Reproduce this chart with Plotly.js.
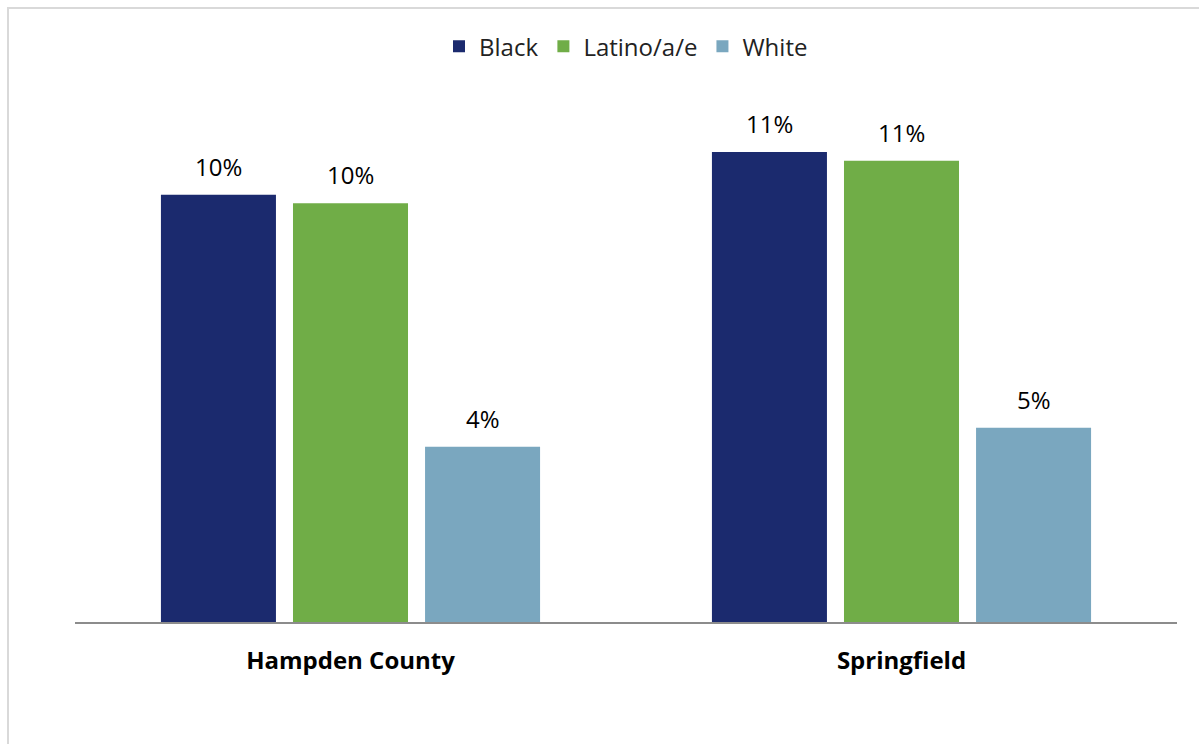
<!DOCTYPE html>
<html>
<head>
<meta charset="utf-8">
<script src="https://cdn.plot.ly/plotly-3.0.1.min.js"></script>
<style>
html,body{margin:0;padding:0;background:#fff;}
#frame{position:absolute;left:7px;top:7px;width:1200px;height:760px;border-left:2px solid #d9d9d9;border-top:2px solid #d9d9d9;box-sizing:border-box;pointer-events:none;}
#chart{width:1199px;height:744px;}
</style>
</head>
<body>
<div id="chart"></div>
<div id="frame"></div>
<script>
const categories = ["Hampden County", "Springfield"];
const seriesNames = ["Black", "Latino/a/e", "White"];
const blackValues = [10.0, 11.0];
const latinoValues = [9.8, 10.8];
const whiteValues = [4.1, 4.55];
const colors = ["#1b2a6e", "#70ad47", "#7aa7bf"];

const fontFamily = "'Open Sans', Lato, sans-serif";
const values = [blackValues, latinoValues, whiteValues];

const traces = seriesNames.map((name, i) => ({
  type: "bar",
  name: name,
  x: categories,
  y: values[i],
  marker: {color: colors[i]},
  hoverinfo: "skip"
}));

// data labels as annotations, positioned from the data values
const slotShift = [-132, 0, 132];
const annotations = [];
seriesNames.forEach((name, i) => {
  categories.forEach((cat, j) => {
    annotations.push({
      x: cat,
      y: values[i][j],
      xref: "x",
      yref: "y",
      text: Math.round(values[i][j]) + "%",
      showarrow: false,
      xanchor: "center",
      yanchor: "bottom",
      xshift: slotShift[i],
      yshift: 10,
      font: {family: fontFamily, size: 24, color: "#000"}
    });
  });
});

const layout = {
  width: 1199,
  height: 744,
  margin: {l: 75, r: 22, t: 100, b: 122},
  paper_bgcolor: "#fff",
  plot_bgcolor: "#fff",
  barmode: "group",
  bargap: 0.281,
  bargroupgap: 0.129,
  showlegend: true,
  legend: {
    orientation: "h",
    x: 0.5, xanchor: "center",
    y: 1.102, yanchor: "middle",
    font: {family: fontFamily, size: 24, color: "#222"},
    itemclick: false
  },
  annotations: annotations,
  xaxis: {
    showline: true,
    linecolor: "#8c8c8c",
    linewidth: 2,
    ticks: "",
    ticklabelstandoff: 16,
    tickfont: {family: fontFamily, size: 24, color: "#000", weight: "bold"},
    showgrid: false,
    zeroline: false
  },
  yaxis: {
    range: [0, 12.22],
    visible: false,
    showgrid: false,
    zeroline: false
  }
};

Plotly.newPlot("chart", traces, layout, {displayModeBar: false, staticPlot: true});
</script>
</body>
</html>
